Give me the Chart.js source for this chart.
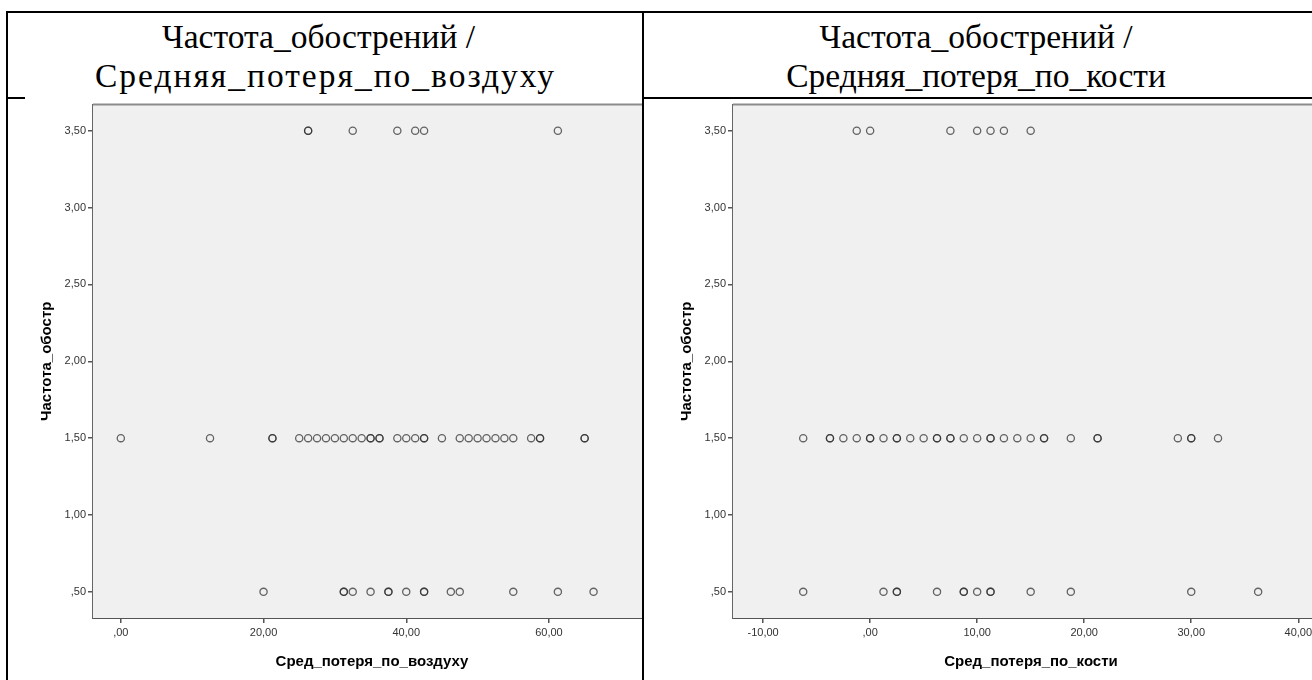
<!DOCTYPE html>
<html>
<head>
<meta charset="utf-8">
<script src="https://cdn.jsdelivr.net/npm/chart.js@4"></script>
<style>
  html, body { margin: 0; padding: 0; background: #fff; width: 1312px; height: 680px; overflow: hidden; position: relative; }
  .rule { position: absolute; background: #000; }
  .title { position: absolute; font-family: "Liberation Serif", "Times New Roman", serif; font-size: 33.5px; line-height: 39px; text-align: center; color: #000; white-space: nowrap; }
  .cell { position: absolute; overflow: hidden; }
  canvas { display: block; }
</style>
</head>
<body>
<div class="rule" style="left:6px;top:11px;width:1306px;height:2px"></div>
<div class="rule" style="left:6px;top:97px;width:1306px;height:2px"></div>
<div class="rule" style="left:6px;top:11px;width:2px;height:669px"></div>

<div class="title" style="left:8px;top:17px;width:635px"><span style="position:relative;left:-7px">Частота_обострений /</span><br><span style="letter-spacing:2px">Средняя_потеря_по_воздуху</span></div>
<div class="title" style="left:645px;top:17px;width:662px">Частота_обострений /<br>Средняя_потеря_по_кости</div>

<div class="cell" style="left:25px;top:96px;width:618px;height:584px;background:#fff"><canvas id="airChart" width="640" height="584"></canvas></div>
<div class="cell" style="left:645px;top:96px;width:667px;height:584px"><canvas id="boneChart" width="700" height="584"></canvas></div>

<div class="rule" style="left:642px;top:11px;width:2px;height:669px"></div>

<script>
// Exacerbation frequency levels (y) and the hearing-loss averages (x) found at each level
const freqLevels = [3.5, 1.5, 0.5];

// Average air-conduction loss, dB
const airAt35 = [26.25, 26.25, 32.5, 38.75, 41.25, 42.5, 61.25];
const airAt15 = [0, 12.5, 21.25, 21.25, 25, 26.25, 27.5, 28.75, 30, 31.25, 32.5, 33.75, 35, 35, 36.25, 36.25,
                 38.75, 40, 41.25, 42.5, 42.5, 45, 47.5, 48.75, 50, 51.25, 52.5, 53.75, 55, 57.5, 58.75, 58.75, 65, 65];
const airAt05 = [20, 31.25, 31.25, 32.5, 35, 37.5, 37.5, 40, 42.5, 42.5, 46.25, 47.5, 55, 61.25, 66.25];

// Average bone-conduction loss, dB
const boneAt35 = [-1.25, 0, 7.5, 10, 11.25, 12.5, 15];
const boneAt15 = [-6.25, -3.75, -3.75, -2.5, -1.25, 0, 0, 1.25, 2.5, 2.5, 3.75, 5, 6.25, 6.25, 7.5, 7.5, 8.75, 10,
                  11.25, 11.25, 12.5, 13.75, 15, 16.25, 16.25, 18.75, 21.25, 21.25, 28.75, 30, 30, 32.5];
const boneAt05 = [-6.25, 1.25, 2.5, 2.5, 6.25, 8.75, 8.75, 10, 11.25, 11.25, 15, 18.75, 30, 36.25];

// Tick values
const yTicks = [0.5, 1, 1.5, 2, 2.5, 3, 3.5];
const airTicks = [0, 20, 40, 60];
const boneTicks = [-10, 0, 10, 20, 30, 40];

// Axis titles
const yTitle = 'Частота_обостр';
const airTitle = 'Сред_потеря_по_воздуху';
const boneTitle = 'Сред_потеря_по_кости';

function toPoints(groups) {
  const pts = [];
  groups.forEach((xs, i) => xs.forEach(x => pts.push({ x: x, y: freqLevels[i] })));
  return pts;
}

// "1,50", ",50", "-10,00"
function fmt(v) {
  let s = Math.abs(v).toFixed(2).replace('.', ',');
  if (s.startsWith('0,')) s = s.slice(1);
  return (v < 0 ? '-' : '') + s;
}

const plotFrame = {
  id: 'plotFrame',
  beforeDatasetsDraw(chart) {
    const { ctx, chartArea: a } = chart;
    ctx.save();
    ctx.fillStyle = '#f0f0f0';
    ctx.fillRect(a.left, a.top, a.right - a.left, a.bottom - a.top);
    ctx.strokeStyle = '#8c8c8c';
    ctx.lineWidth = 2;
    ctx.beginPath();
    ctx.moveTo(a.left, a.top);
    ctx.lineTo(a.right, a.top);
    ctx.lineTo(a.right, a.bottom);
    ctx.stroke();
    ctx.restore();
  }
};

function makeChart(id, points, xMin, xMax, xTicks, xTitle, yAxisWidth, yTitlePad, padTop, padRight) {
  const tickFont = { family: '"Liberation Sans", Arial, sans-serif', size: 11 };
  const titleFont = { family: '"Liberation Sans", Arial, sans-serif', size: 15, weight: 'bold' };
  return new Chart(document.getElementById(id), {
    type: 'scatter',
    data: {
      datasets: [{
        data: points,
        pointStyle: 'circle',
        pointRadius: 3.6,
        pointHoverRadius: 3.6,
        pointBorderWidth: 1.3,
        borderColor: 'rgba(45,45,45,0.72)',
        backgroundColor: 'rgba(0,0,0,0)'
      }]
    },
    options: {
      responsive: false,
      animation: false,
      events: [],
      layout: { padding: { top: padTop, right: padRight, left: 0, bottom: 0 } },
      plugins: { legend: { display: false }, tooltip: { enabled: false } },
      scales: {
        x: {
          type: 'linear',
          min: xMin, max: xMax,
          afterFit(axis) { axis.height = 62; },
          afterBuildTicks(axis) { axis.ticks = xTicks.map(v => ({ value: v })); },
          grid: { drawOnChartArea: false, drawTicks: true, tickLength: 5, color: '#555', lineWidth: 1.5 },
          border: { display: true, color: '#555', width: 2 },
          ticks: { padding: 3, color: '#333', font: tickFont, callback: v => fmt(v), maxRotation: 0, autoSkip: false },
          title: { display: true, text: xTitle, color: '#000', font: titleFont, padding: { top: 0, bottom: 9 } }
        },
        y: {
          type: 'linear',
          min: 0.33, max: 3.67,
          afterFit(axis) { axis.width = yAxisWidth; },
          afterBuildTicks(axis) { axis.ticks = yTicks.map(v => ({ value: v })); },
          grid: { drawOnChartArea: false, drawTicks: true, tickLength: 5, color: '#555', lineWidth: 1.5 },
          border: { display: true, color: '#666', width: 2 },
          ticks: { padding: 2, color: '#333', font: tickFont, callback: v => fmt(v), autoSkip: false },
          title: { display: true, text: yTitle, color: '#000', font: titleFont, padding: { top: yTitlePad, bottom: 0 } }
        }
      }
    },
    plugins: [plotFrame]
  });
}

makeChart('airChart', toPoints([airAt35, airAt15, airAt05]), -3.9, 74.3, airTicks, airTitle, 68, 13, 8, 14);
makeChart('boneChart', toPoints([boneAt35, boneAt15, boneAt05]), -12.81, 42.87, boneTicks, boneTitle, 88, 33, 8, 16);
</script>
</body>
</html>
